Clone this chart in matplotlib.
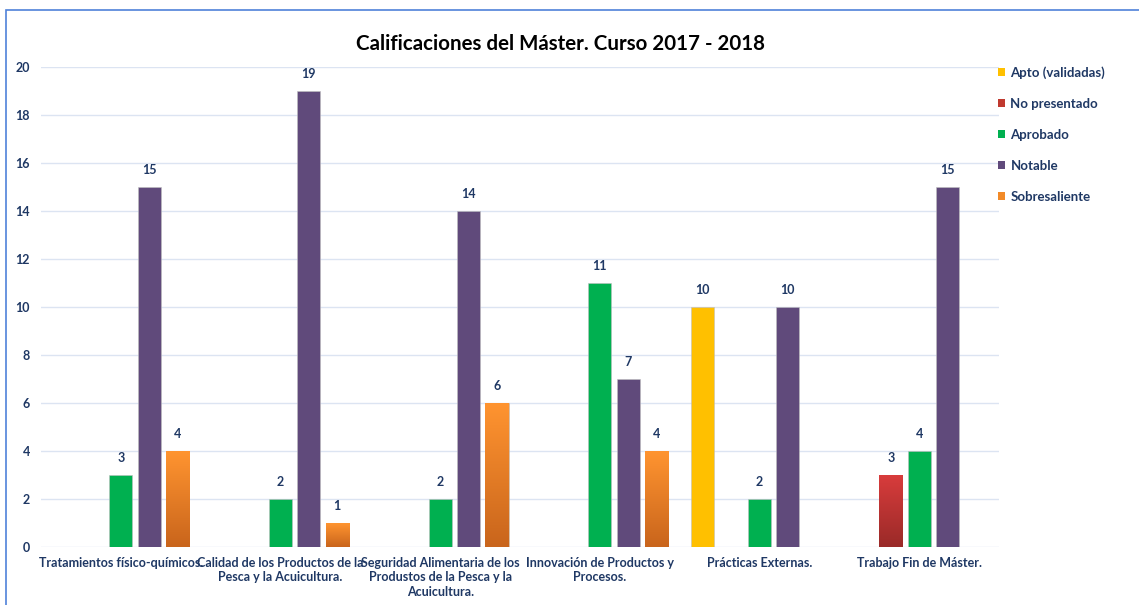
import numpy as np
import matplotlib.pyplot as plt
from matplotlib.colors import LinearSegmentedColormap
from matplotlib.patches import Patch, Rectangle

plt.rcParams['font.family'] = ['Lato', 'DejaVu Sans']

categories = [
    "Tratamientos físico-químicos.",
    "Calidad de los Productos de la\nPesca y la Acuicultura.",
    "Seguridad Alimentaria de los\nProdustos de la Pesca y la\nAcuicultura.",
    "Innovación de Productos y\nProcesos.",
    "Prácticas Externas.",
    "Trabajo Fin de Máster.",
]
series_names = ["Apto (validadas)", "No presentado", "Aprobado", "Notable", "Sobresaliente"]
apto = [np.nan, np.nan, np.nan, np.nan, 10, np.nan]
no_presentado = [np.nan, np.nan, np.nan, np.nan, np.nan, 3]
aprobado = [3, 2, 2, 11, 2, 4]
notable = [15, 19, 14, 7, 10, 15]
sobresaliente = [4, 1, 6, 4, np.nan, np.nan]

series_values = [apto, no_presentado, aprobado, notable, sobresaliente]
colors = ["#FFC000", "#C0392F", "#00B050", "#604A7B", "#F28A28"]
# top / bottom colours for the gradient-filled series
gradients = {1: ("#D83C3C", "#9A2A28"), 4: ("#FF9430", "#C9651C")}

navy = "#1F3864"

fig = plt.figure(figsize=(11.39, 6.05), dpi=100)
ax = fig.add_axes([41 / 1139, 58 / 605, (999 - 41) / 1139, (547 - 67) / 605])

x = np.arange(len(categories))
pitch = 0.1775
width = 0.146

for i, (name, vals) in enumerate(zip(series_names, series_values)):
    offs = (i - 2) * pitch
    vals = np.array(vals, dtype=float)
    bars = ax.bar(x + offs, vals, width, color=colors[i], label=name, zorder=3,
                  edgecolor="#BFBFBF", linewidth=0.4)
    if i in gradients:
        cmap = LinearSegmentedColormap.from_list("g%d" % i, [gradients[i][1], gradients[i][0]])
        for b in bars:
            h = b.get_height()
            if np.isnan(h) or h == 0:
                continue
            x0 = b.get_x()
            grad = np.linspace(0, 1, 100).reshape(-1, 1)
            im = ax.imshow(grad, extent=[x0, x0 + width, 0, h], origin="lower",
                           cmap=cmap, aspect="auto", zorder=4, interpolation="bicubic")
            im.set_clip_path(b)
    for xi, v in zip(x + offs, vals):
        if np.isnan(v):
            continue
        ax.annotate("%d" % v, (xi, v), xytext=(0, 8), textcoords="offset points",
                    ha="center", va="bottom", fontsize=9, fontweight="bold", color=navy)

ax.set_xlim(-0.5, len(categories) - 0.5)
ax.set_ylim(0, 20)
ax.set_yticks(np.arange(0, 21, 2))
ax.set_xticks(x)
ax.set_xticklabels(categories, fontsize=9, fontweight="bold", color=navy, linespacing=1.25)
for lbl in ax.get_yticklabels():
    lbl.set_fontsize(9)
    lbl.set_fontweight("bold")
    lbl.set_color(navy)
ax.tick_params(axis="both", length=0)
ax.tick_params(axis="y", pad=8)
ax.tick_params(axis="x", pad=7)
ax.grid(axis="y", color="#DCE4F2", linewidth=1, zorder=0)
ax.set_axisbelow(True)
for s in ax.spines.values():
    s.set_visible(False)

fig.text(560 / 1139, 1 - 44 / 605, "Calificaciones del Máster. Curso 2017 - 2018",
         ha="center", va="center", fontsize=14.8, fontweight="bold", color="black")

handles = [Patch(facecolor=c, edgecolor="none") for c in colors]
fig.legend(handles, series_names, loc="upper left", bbox_to_anchor=(986 / 1139, 1 - 54 / 605),
           frameon=False, prop={"weight": "bold", "size": 9.5},
           handlelength=0.55, handleheight=0.55, handletextpad=0.4, labelspacing=1.45,
           labelcolor=navy)

# chart frame (cut off at right and bottom in the original)
fig.patches.append(Rectangle((6 / 1139, -0.1), 1.2, 1 - 10 / 605 + 0.1, transform=fig.transFigure,
                             fill=False, edgecolor="#4F81D9", linewidth=1.2))

fig.savefig("out.png", dpi=100)
